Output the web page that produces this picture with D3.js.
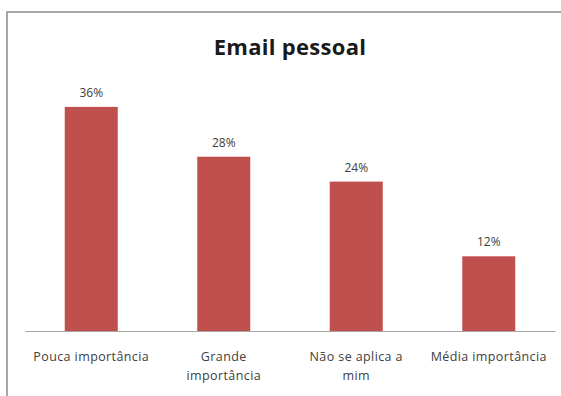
<!DOCTYPE html>
<html>
<head>
<meta charset="utf-8">
<script src="https://cdn.jsdelivr.net/npm/d3@7/dist/d3.min.js"></script>
<style>
  html, body { margin: 0; padding: 0; background: #fff; }
  svg { display: block; }
</style>
</head>
<body>
<svg id="chart" width="561" height="396"></svg>
<script>
// Chart data
const categories = ["Pouca importância", "Grande importância", "Não se aplica a mim", "Média importância"];
const values = [36, 28, 24, 12];
const title = "Email pessoal";

const W = 561, H = 396;
const svg = d3.select("#chart");
const font = "'Open Sans', 'DejaVu Sans', sans-serif";

// Chart frame (continues past the right and bottom edges)
svg.append("rect")
  .attr("x", 7).attr("y", 12)
  .attr("width", W + 20).attr("height", H + 20)
  .attr("fill", "#fff")
  .attr("stroke", "#a6a6a6")
  .attr("stroke-width", 2);

const plot = { left: 25, right: 555, top: 82, bottom: 331 };

const x = d3.scaleBand()
  .domain(categories)
  .range([plot.left, plot.right])
  .paddingInner(0.6)
  .paddingOuter(0.3);

const y = d3.scaleLinear()
  .domain([0, 40])
  .range([plot.bottom, plot.top]);

// Title
svg.append("text")
  .attr("x", 290).attr("y", 55)
  .attr("text-anchor", "middle")
  .attr("font-family", font)
  .attr("font-weight", "bold")
  .attr("font-size", 22)
  .attr("letter-spacing", 0.3)
  .attr("fill", "#1a1a1a")
  .text(title);

// Bars
svg.append("g").selectAll("rect")
  .data(values)
  .join("rect")
  .attr("x", (d, i) => x(categories[i]))
  .attr("y", d => y(d))
  .attr("width", x.bandwidth())
  .attr("height", d => y(0) - y(d))
  .attr("fill", "#c0504d");

// Value labels
svg.append("g").selectAll("text")
  .data(values)
  .join("text")
  .attr("x", (d, i) => x(categories[i]) + x.bandwidth() / 2)
  .attr("y", d => y(d) - 10)
  .attr("text-anchor", "middle")
  .attr("font-family", font)
  .attr("font-size", 12)
  .attr("fill", "#404040")
  .text(d => d + "%");

// Category axis
const axis = svg.append("g")
  .attr("transform", `translate(0,${plot.bottom})`)
  .call(d3.axisBottom(x).tickSize(0).tickPadding(0));
axis.select(".domain").attr("stroke", "#a6a6a6").attr("stroke-width", 1.2);
axis.selectAll(".tick text").remove();

// Wrapped category labels
const labelLines = {
  "Pouca importância": ["Pouca importância"],
  "Grande importância": ["Grande", "importância"],
  "Não se aplica a mim": ["Não se aplica a", "mim"],
  "Média importância": ["Média importância"]
};
categories.forEach(c => {
  const cx = x(c) + x.bandwidth() / 2;
  const t = svg.append("text")
    .attr("x", cx)
    .attr("y", 361)
    .attr("text-anchor", "middle")
    .attr("font-family", font)
    .attr("font-size", 12.5)
    .attr("letter-spacing", 0.4)
    .attr("fill", "#404040");
  labelLines[c].forEach((line, i) => {
    t.append("tspan")
      .attr("x", cx)
      .attr("dy", i === 0 ? 0 : 19)
      .text(line);
  });
});
</script>
</body>
</html>
